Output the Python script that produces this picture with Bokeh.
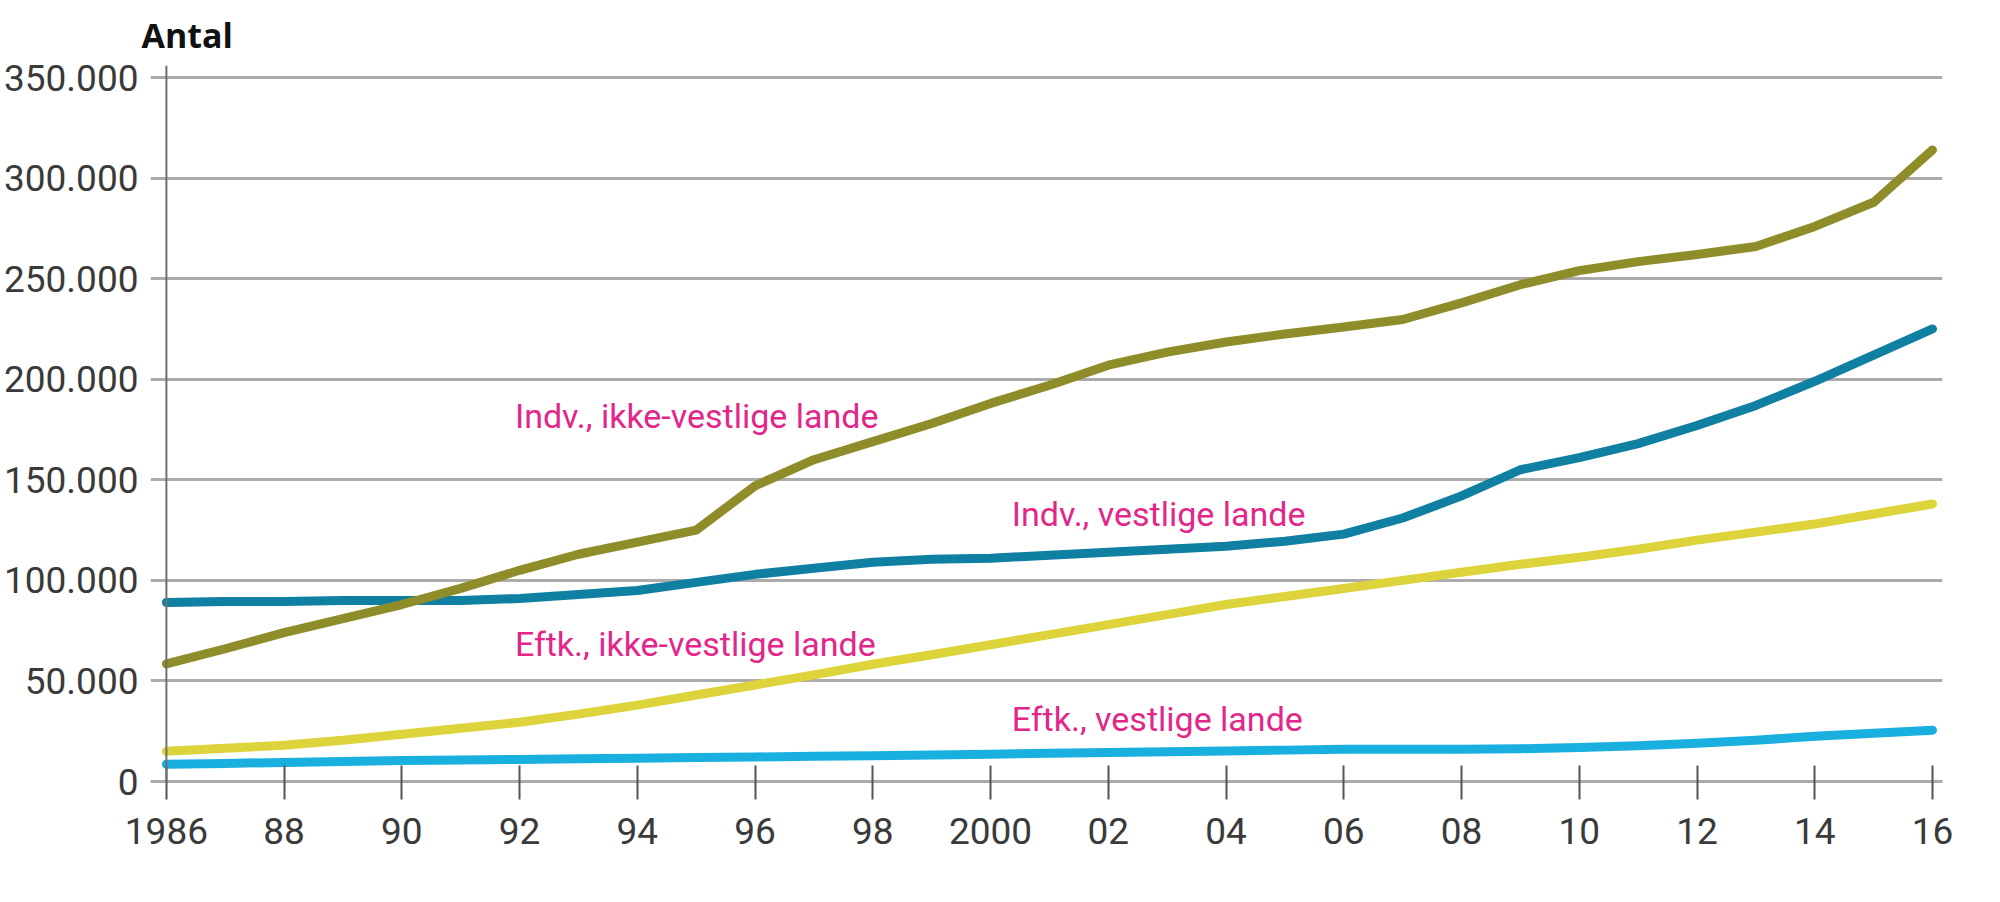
from bokeh.plotting import figure
from bokeh.models import Span, Label, FixedTicker, Title
from bokeh.embed import file_html
from bokeh.resources import INLINE

# ---- data (values in persons) ----
years = list(range(1986, 2017))

indv_ikke_vestlige = [58500, 66000, 74000, 81000, 88000, 96000, 105000, 113000, 119000, 125000,
                      147000, 160000, 169000, 178000, 188000, 197000, 207000, 213500, 218500, 222500,
                      226000, 229700, 238000, 247000, 254000, 258500, 262000, 266000, 276000, 288000,
                      314000]
indv_vestlige = [89000, 89500, 89500, 90000, 90000, 90000, 91000, 93000, 95000, 99000,
                 103000, 106000, 109000, 110500, 111000, 112500, 114000, 115500, 117000, 119500,
                 123000, 131000, 142000, 155000, 161000, 168000, 177000, 187000, 199000, 212000,
                 225000]
eftk_ikke_vestlige = [15000, 16500, 18000, 20500, 23500, 26500, 29500, 33500, 38000, 43000,
                      48000, 53000, 58300, 63000, 68000, 73000, 78000, 83000, 88000, 92000,
                      96000, 100000, 104000, 108000, 111500, 115500, 120000, 124000, 128000, 133000,
                      138000]
eftk_vestlige = [8600, 9000, 9500, 10000, 10400, 10700, 11000, 11300, 11600, 11900,
                 12200, 12500, 12800, 13200, 13600, 14000, 14400, 14800, 15200, 15600,
                 16000, 16000, 16000, 16300, 16900, 17800, 19000, 20500, 22500, 24000,
                 25500]

series_names = ["Indv., ikke-vestlige lande", "Indv., vestlige lande",
                "Eftk., ikke-vestlige lande", "Eftk., vestlige lande"]
series_values = [indv_ikke_vestlige, indv_vestlige, eftk_ikke_vestlige, eftk_vestlige]
series_colors = ["#8f8c2a", "#0f7fa2", "#dcd43a", "#19b0e0"]

y_ticks = [0, 50000, 100000, 150000, 200000, 250000, 300000, 350000]
y_tick_labels = ["0", "50.000", "100.000", "150.000", "200.000", "250.000", "300.000", "350.000"]
x_ticks = list(range(1986, 2017, 2))
x_tick_labels = ["1986", "88", "90", "92", "94", "96", "98", "2000",
                 "02", "04", "06", "08", "10", "12", "14", "16"]

y_title = "Antal"

FONT = "Roboto"

p = figure(frame_width=1792, frame_height=716,
           x_range=(1985.73, 2016.17), y_range=(0, 356000),
           min_border_left=144, min_border_right=40, min_border_top=65, min_border_bottom=91,
           output_backend="svg", toolbar_location=None)
p.outline_line_color = None
p.background_fill_color = "white"
p.border_fill_color = "white"

# title "Antal"
p.add_layout(Title(text=y_title, align="left", offset=-9, standoff=16,
                   text_font="Open Sans", text_font_style="bold",
                   text_font_size="34px", text_color="#111111"), "above")

# grid
p.xgrid.grid_line_color = None
p.ygrid.ticker = FixedTicker(ticks=y_ticks)
p.ygrid.grid_line_color = "#ababab"
p.ygrid.grid_line_width = 3

# y axis
p.yaxis.ticker = FixedTicker(ticks=y_ticks)
p.yaxis.major_label_overrides = {t: l for t, l in zip(y_ticks, y_tick_labels)}
p.yaxis.axis_line_color = None
p.yaxis.major_tick_line_color = None
p.yaxis.minor_tick_line_color = None
p.yaxis.major_label_standoff = 6
p.yaxis.major_label_text_font = FONT
p.yaxis.major_label_text_font_size = "37px"
p.yaxis.major_label_text_color = "#3a3a3a"

# x axis
p.xaxis.ticker = FixedTicker(ticks=x_ticks)
p.xaxis.major_label_overrides = {t: l for t, l in zip(x_ticks, x_tick_labels)}
p.xaxis.axis_line_color = "#ababab"
p.xaxis.axis_line_width = 3
p.xaxis.major_tick_line_color = "#555555"
p.xaxis.major_tick_line_width = 2
p.xaxis.major_tick_in = 16
p.xaxis.major_tick_out = 18
p.xaxis.minor_tick_line_color = None
p.xaxis.major_label_standoff = 18
p.xaxis.major_label_text_font = FONT
p.xaxis.major_label_text_font_size = "37px"
p.xaxis.major_label_text_color = "#3a3a3a"

# vertical axis line at first year
p.add_layout(Span(location=years[0], dimension="height", line_color="#707070", line_width=2))

# lines (draw in reverse so upper series on top)
for vals, col in zip(series_values[::-1], series_colors[::-1]):
    p.line(years, vals, line_color=col, line_width=9, line_cap="round", line_join="round")

# series labels
label_pos = [(1991.92, 181800), (2000.36, 133000), (1991.92, 68400), (2000.36, 31000)]
for name, (lx, ly) in zip(series_names, label_pos):
    p.add_layout(Label(x=lx, y=ly, text=name, text_font=FONT, text_font_size="34px",
                       text_color="#e2268a", text_baseline="alphabetic", text_align="left"))

open("out.html", "w").write(file_html(p, INLINE))
